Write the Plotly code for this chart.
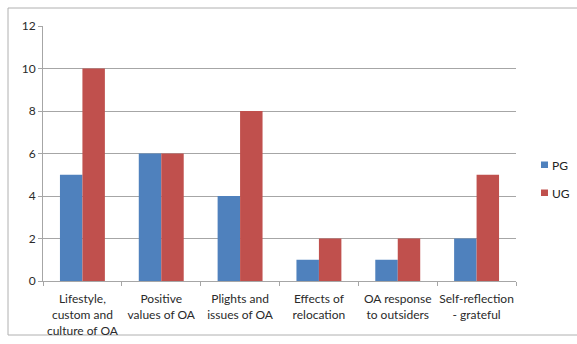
import plotly.graph_objects as go

categories = [
    "Lifestyle,<br>custom and<br>culture of OA",
    "Positive<br>values of OA",
    "Plights and<br>issues of OA",
    "Effects of<br>relocation",
    "OA response<br>to outsiders",
    "Self-reflection<br>- grateful",
]
series_names = ["PG", "UG"]
pg_values = [5, 6, 4, 1, 1, 2]
ug_values = [10, 6, 8, 2, 2, 5]
colors = ["#4f81bd", "#c0504d"]

FONT = "Lato, 'Open Sans', sans-serif"
GRID = "#a6a6a6"

fig = go.Figure()
for name, vals, col in zip(series_names, [pg_values, ug_values], colors):
    fig.add_trace(go.Bar(name=name, x=categories, y=vals,
                         marker=dict(color=col, line=dict(width=0)),
                         showlegend=False))

W, H = 577, 344
L, R, T, B = 43, 61, 26, 63
pw, ph = W - L - R, H - T - B

def px_x(px):
    return (px - L) / pw

def px_y(py):
    return (H - B - py) / ph

# Compact legend: small colour squares with the series names beside them
shapes = [dict(type="rect", xref="paper", yref="paper",
               x0=px_x(8), x1=px_x(580), y0=px_y(335), y1=px_y(8),
               line=dict(color="#b0b0b0", width=1), layer="below")]
annotations = []
legend_rows = [165, 193]
for name, col, yc in zip(series_names, colors, legend_rows):
    shapes.append(dict(type="rect", xref="paper", yref="paper",
                       x0=px_x(541), x1=px_x(548),
                       y0=px_y(yc + 3), y1=px_y(yc - 3.5),
                       fillcolor=col, line=dict(width=0)))
    annotations.append(dict(text=name, xref="paper", yref="paper",
                            x=px_x(550), y=px_y(yc), xanchor="left",
                            yanchor="middle", showarrow=False,
                            font=dict(size=12, color="#222222")))

fig.update_layout(
    width=W, height=H,
    margin=dict(l=L, r=R, t=T, b=B, pad=0),
    paper_bgcolor="white", plot_bgcolor="white",
    barmode="group", bargap=0.43, bargroupgap=0,
    font=dict(family=FONT, size=12, color="#2a2a2a"),
    showlegend=False,
    xaxis=dict(type="category", tickson="boundaries", ticks="outside",
               ticklen=4, tickcolor=GRID, showline=True, linecolor=GRID,
               linewidth=1, showgrid=False, tickangle=0, automargin=False,
               ticklabelstandoff=7, tickfont=dict(size=12)),
    yaxis=dict(range=[0, 12], dtick=2, ticks="outside", ticklen=4,
               tickcolor=GRID, showline=True, linecolor=GRID, linewidth=1,
               showgrid=True, gridcolor=GRID, gridwidth=1, zeroline=False,
               automargin=False, tickfont=dict(size=12)),
    shapes=shapes,
    annotations=annotations,
)

fig.write_html("out.html")
